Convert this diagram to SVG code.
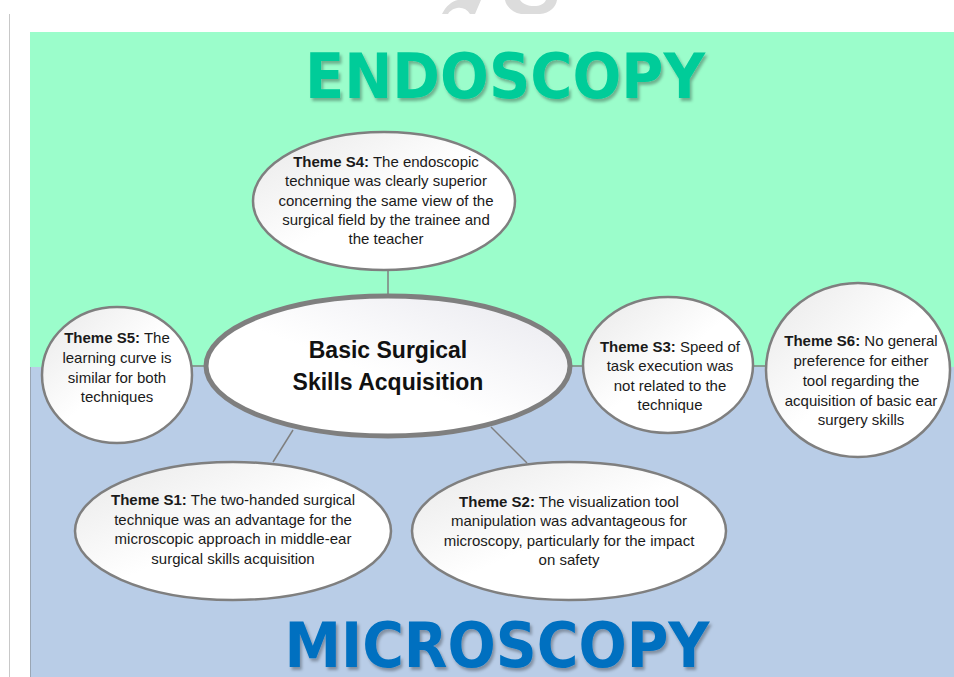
<svg xmlns="http://www.w3.org/2000/svg" width="954" height="677" viewBox="0 0 954 677">
<defs>
<linearGradient id="g" x1="0" y1="0" x2="1" y2="1">
<stop offset="0" stop-color="#e8e8e8"/>
<stop offset="0.5" stop-color="#ffffff"/>
<stop offset="1" stop-color="#ffffff"/>
</linearGradient>
<linearGradient id="gc" x1="1" y1="0" x2="0" y2="1">
<stop offset="0" stop-color="#e8e8ee"/>
<stop offset="0.55" stop-color="#ffffff"/>
<stop offset="1" stop-color="#ffffff"/>
</linearGradient>
<filter id="ts" x="-10%" y="-20%" width="120%" height="140%">
<feDropShadow dx="2" dy="3" stdDeviation="1.8" flood-color="#000" flood-opacity="0.3"/>
</filter>
</defs>
<style>
.node{fill:url(#g);stroke:#7f7f7f;stroke-width:2.5}
.center{fill:url(#gc);stroke:#7f7f7f;stroke-width:5}
.t{font-family:"Liberation Sans",Arial,sans-serif;font-size:15px;fill:#1a1a1a;text-anchor:middle}
.t tspan.b{font-weight:bold}
.ct{font-family:"Liberation Sans",Arial,sans-serif;font-size:23px;font-weight:bold;fill:#111;text-anchor:middle}
.title{font-family:"DejaVu Sans Condensed","DejaVu Sans",sans-serif;font-weight:bold;font-size:62px;text-anchor:middle}
.conn line{stroke:#7f7f7f;stroke-width:1.5}
</style>
<rect x="0" y="0" width="954" height="677" fill="#ffffff"/>
<path d="M442,14 C446,6 452,1 458,0 L481,0 L475,14 L470,14 C467,9 462,7 457,8 C452,9 449,12 448,14 Z" fill="#dcdcdc"/>
<path d="M505,0 L520,0 C523,4 528,6 534,6 C540,6 544,4 546,0 L557,0 C556,7 550,13 540,14 L521,14 C512,12 506,6 505,0 Z" fill="#dcdcdc"/>
<line x1="9.5" y1="14" x2="9.5" y2="677" stroke="#c8c8c8" stroke-width="1"/>
<rect x="30" y="32" width="924" height="335" fill="#9bfdcb"/>
<rect x="30" y="367" width="924" height="310" fill="#b9cde7"/>
<line x1="30.5" y1="367" x2="30.5" y2="677" stroke="#9aa6b4" stroke-width="1"/>
<text class="title" x="505" y="98" fill="#00cc99" filter="url(#ts)" textLength="400" lengthAdjust="spacingAndGlyphs">ENDOSCOPY</text>
<text class="title" x="497" y="667" fill="#0070c0" filter="url(#ts)" textLength="425" lengthAdjust="spacingAndGlyphs">MICROSCOPY</text>
<g id="connectors" class="conn">
<line x1="388" y1="270" x2="388" y2="296"/>
<line x1="192" y1="366" x2="206" y2="366"/>
<line x1="570" y1="366" x2="583" y2="366"/>
<line x1="753" y1="366" x2="766" y2="366"/>
<line x1="293" y1="430" x2="273" y2="462"/>
<line x1="491" y1="427" x2="527" y2="463"/>
</g>
<g id="s4">
<ellipse class="node" cx="384" cy="201" rx="131" ry="69"/>
<text class="t" x="386" y="167"><tspan class="b">Theme S4:</tspan> The endoscopic</text>
<text class="t" x="386" y="186">technique was clearly superior</text>
<text class="t" x="386" y="206">concerning the same view of the</text>
<text class="t" x="386" y="225">surgical field by the trainee and</text>
<text class="t" x="386" y="244">the teacher</text>
</g>
<g id="s5">
<ellipse class="node" cx="117" cy="375" rx="75" ry="68"/>
<text class="t" x="117" y="343"><tspan class="b">Theme S5:</tspan> The</text>
<text class="t" x="117" y="363">learning curve is</text>
<text class="t" x="117" y="383">similar for both</text>
<text class="t" x="117" y="402">techniques</text>
</g>
<g id="center">
<ellipse class="center" cx="388" cy="366" rx="182" ry="70"/>
<text class="ct" x="388" y="358">Basic Surgical</text>
<text class="ct" x="388" y="390">Skills Acquisition</text>
</g>
<g id="s3">
<ellipse class="node" cx="668" cy="365" rx="85" ry="68"/>
<text class="t" x="670" y="352"><tspan class="b">Theme S3:</tspan> Speed of</text>
<text class="t" x="670" y="371">task execution was</text>
<text class="t" x="670" y="391">not related to the</text>
<text class="t" x="670" y="410">technique</text>
</g>
<g id="s6">
<ellipse class="node" cx="858" cy="370" rx="92" ry="87"/>
<text class="t" x="861" y="346"><tspan class="b">Theme S6:</tspan> No general</text>
<text class="t" x="861" y="366">preference for either</text>
<text class="t" x="861" y="386">tool regarding the</text>
<text class="t" x="861" y="406">acquisition of basic ear</text>
<text class="t" x="861" y="425">surgery skills</text>
</g>
<g id="s1">
<ellipse class="node" cx="233" cy="531" rx="158" ry="69"/>
<text class="t" x="233" y="505"><tspan class="b">Theme S1:</tspan> The two-handed surgical</text>
<text class="t" x="233" y="525">technique was an advantage for the</text>
<text class="t" x="233" y="544">microscopic approach in middle-ear</text>
<text class="t" x="233" y="564">surgical skills acquisition</text>
</g>
<g id="s2">
<ellipse class="node" cx="569" cy="531" rx="157" ry="69"/>
<text class="t" x="569" y="507"><tspan class="b">Theme S2:</tspan> The visualization tool</text>
<text class="t" x="569" y="526">manipulation was advantageous for</text>
<text class="t" x="569" y="546">microscopy, particularly for the impact</text>
<text class="t" x="569" y="565">on safety</text>
</g>
</svg>
